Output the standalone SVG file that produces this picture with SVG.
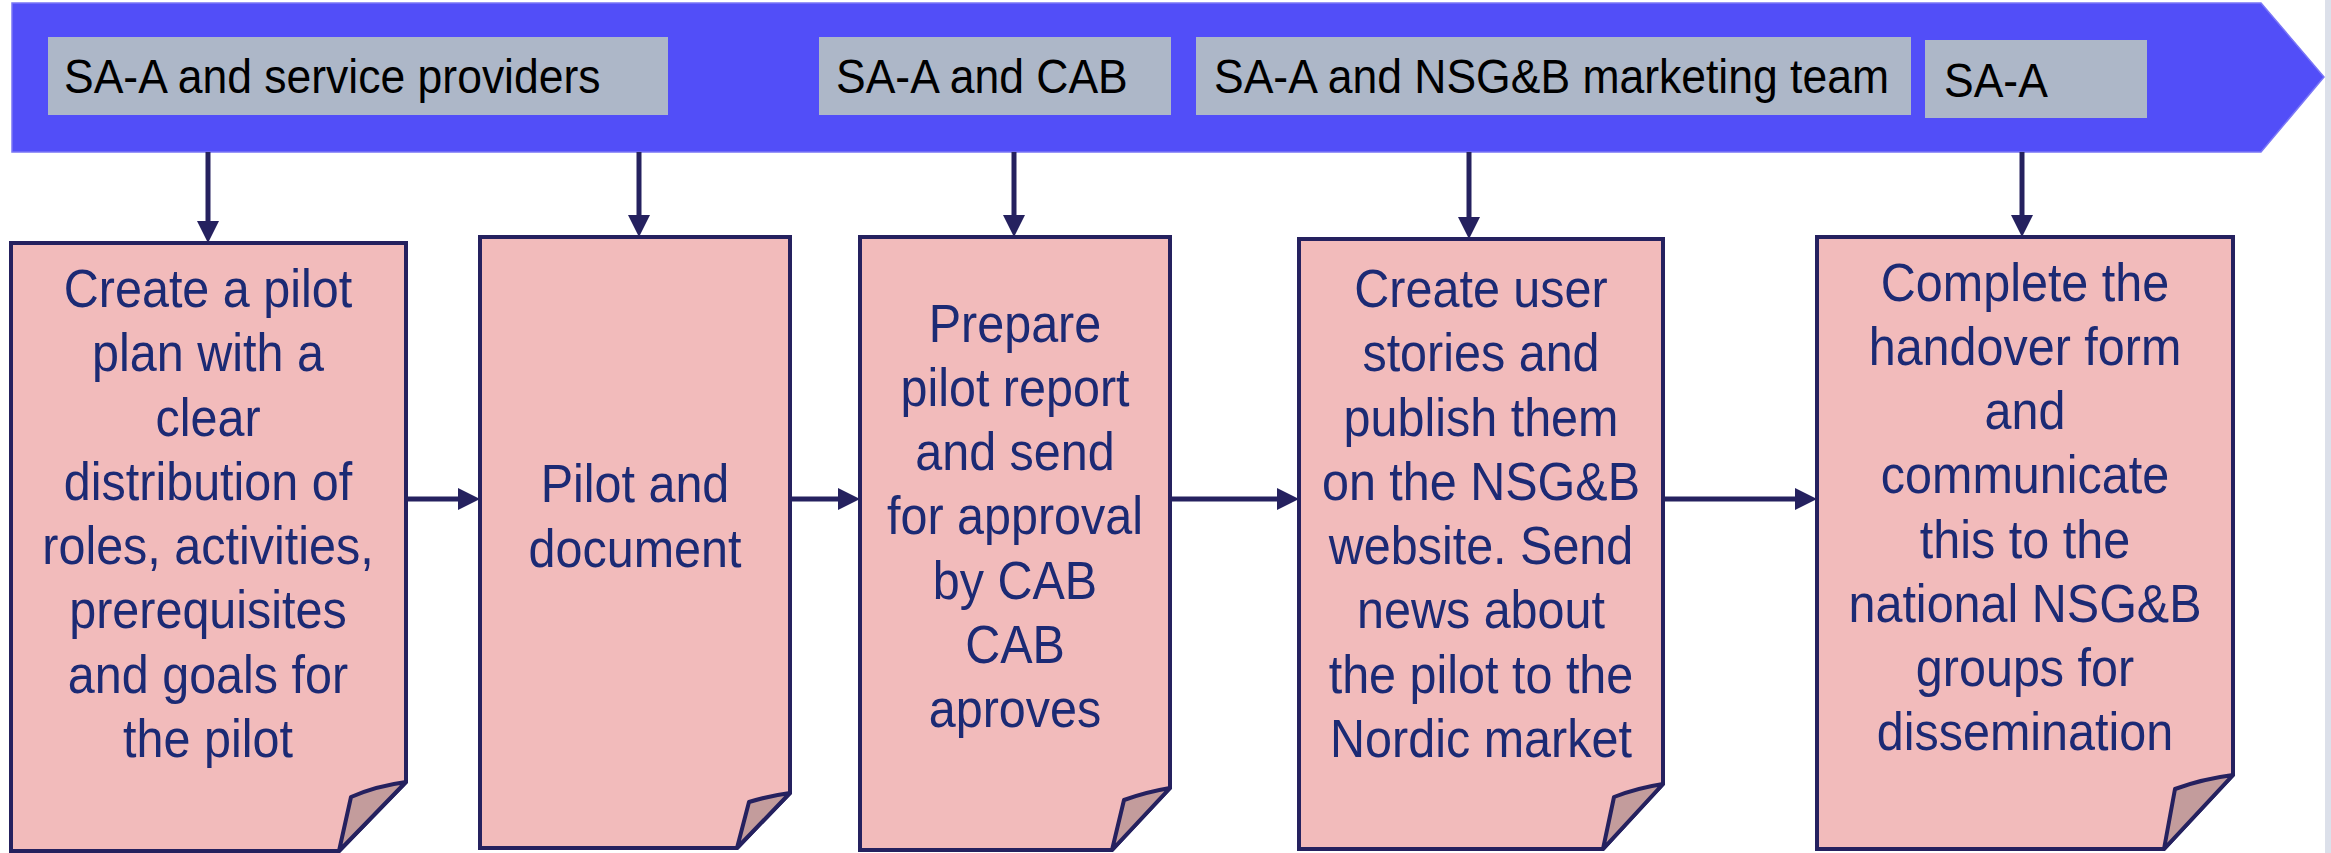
<svg xmlns="http://www.w3.org/2000/svg" width="2331" height="853" viewBox="0 0 2331 853">
<style>
.box{fill:#F2BBBB;stroke:#25215F;stroke-width:4;stroke-linejoin:miter}
.fold{fill:#C39C9C;stroke:#25215F;stroke-width:4;stroke-linejoin:round}
.lbl{fill:#ADB7C8}
.lt{font-family:"Liberation Sans",Arial,sans-serif;font-size:44.5px;fill:#000}
.bt{font-family:"Liberation Sans",Arial,sans-serif;font-size:48.5px;fill:#1C2A74;text-anchor:middle}
.con{stroke:#25215F;stroke-width:5;fill:none}
</style>
<defs>
<marker id="ah" markerWidth="22" markerHeight="22" refX="2" refY="11" orient="auto" markerUnits="userSpaceOnUse">
<path d="M0,0 L22,11 L0,22 Z" fill="#25215F"/>
</marker>
</defs>
<rect x="0" y="0" width="2331" height="853" fill="#FFFFFF"/>
<rect x="2325" y="0" width="6" height="853" fill="#DCE0EA"/>
<g id="banner">
<polygon points="12,3 2261,3 2324,77 2261,152 12,152" fill="#524EF8" stroke="#7A76F6" stroke-width="1.5"/>
</g>
<g id="label-1">
<rect class="lbl" x="48" y="37" width="620" height="78"/>
<g transform="scale(1,1.09)"><text class="lt" x="64" y="85.32">SA-A and service providers</text></g>
</g>
<g id="label-2">
<rect class="lbl" x="819" y="37" width="352" height="78"/>
<g transform="scale(1,1.09)"><text class="lt" x="836" y="85.32">SA-A and CAB</text></g>
</g>
<g id="label-3">
<rect class="lbl" x="1196" y="37" width="715" height="78"/>
<g transform="scale(1,1.09)"><text class="lt" x="1214" y="85.32">SA-A and NSG&amp;B marketing team</text></g>
</g>
<g id="label-4">
<rect class="lbl" x="1925" y="40" width="222" height="78"/>
<g transform="scale(1,1.09)"><text class="lt" x="1944" y="88.99">SA-A</text></g>
</g>
<g id="connectors">
<line class="con" x1="208" y1="152" x2="208" y2="223" marker-end="url(#ah)"/>
<line class="con" x1="639" y1="152" x2="639" y2="217" marker-end="url(#ah)"/>
<line class="con" x1="1014" y1="152" x2="1014" y2="217" marker-end="url(#ah)"/>
<line class="con" x1="1469" y1="152" x2="1469" y2="219" marker-end="url(#ah)"/>
<line class="con" x1="2022" y1="152" x2="2022" y2="217" marker-end="url(#ah)"/>
<line class="con" stroke-width="6" x1="408" y1="499" x2="460" y2="499" marker-end="url(#ah)"/>
<line class="con" stroke-width="6" x1="792" y1="499" x2="840" y2="499" marker-end="url(#ah)"/>
<line class="con" stroke-width="6" x1="1172" y1="499" x2="1279" y2="499" marker-end="url(#ah)"/>
<line class="con" stroke-width="6" x1="1665" y1="499" x2="1797" y2="499" marker-end="url(#ah)"/>
</g>
<g id="step-1">
<path class="box" d="M11,243 H406 V782 L339,851 H11 Z"/>
<path class="fold" d="M406,782 Q376,786 351,797 L339,851 Z"/>
<g transform="scale(1,1.09)">
<text class="bt" x="208" y="281.65">Create a pilot</text>
<text class="bt" x="208" y="340.64">plan with a</text>
<text class="bt" x="208" y="399.63">clear</text>
<text class="bt" x="208" y="458.62">distribution of</text>
<text class="bt" x="208" y="517.61">roles, activities,</text>
<text class="bt" x="208" y="576.61">prerequisites</text>
<text class="bt" x="208" y="635.6">and goals for</text>
<text class="bt" x="208" y="694.5">the pilot</text>
</g>
</g>
<g id="step-2">
<path class="box" d="M480,237 H790 V793 L737,848 H480 Z"/>
<path class="fold" d="M790,793 Q768,796 749,802 L737,848 Z"/>
<g transform="scale(1,1.09)">
<text class="bt" x="635" y="460.55">Pilot and</text>
<text class="bt" x="635" y="520.18">document</text>
</g>
</g>
<g id="step-3">
<path class="box" d="M860,237 H1170 V788 L1112,850 H860 Z"/>
<path class="fold" d="M1170,788 Q1146,792 1124,800 L1112,850 Z"/>
<g transform="scale(1,1.09)">
<text class="bt" x="1015" y="313.76">Prepare</text>
<text class="bt" x="1015" y="372.66">pilot report</text>
<text class="bt" x="1015" y="431.47">and send</text>
<text class="bt" x="1015" y="490.37">for approval</text>
<text class="bt" x="1015" y="549.27">by CAB</text>
<text class="bt" x="1015" y="608.07">CAB</text>
<text class="bt" x="1015" y="666.97">aproves</text>
</g>
</g>
<g id="step-4">
<path class="box" d="M1299,239 H1663 V784 L1603,849 H1299 Z"/>
<path class="fold" d="M1663,784 Q1637,788 1614,797 L1603,849 Z"/>
<g transform="scale(1,1.09)">
<text class="bt" x="1481" y="281.65">Create user</text>
<text class="bt" x="1481" y="340.64">stories and</text>
<text class="bt" x="1481" y="399.63">publish them</text>
<text class="bt" x="1481" y="458.62">on the NSG&amp;B</text>
<text class="bt" x="1481" y="517.61">website. Send</text>
<text class="bt" x="1481" y="576.61">news about</text>
<text class="bt" x="1481" y="635.6">the pilot to the</text>
<text class="bt" x="1481" y="694.5">Nordic market</text>
</g>
</g>
<g id="step-5">
<path class="box" d="M1817,237 H2233 V775 L2164,849 H1817 Z"/>
<path class="fold" d="M2233,775 Q2202,779 2175,789 L2164,849 Z"/>
<g transform="scale(1,1.09)">
<text class="bt" x="2025" y="276.15">Complete the</text>
<text class="bt" x="2025" y="334.95">handover form</text>
<text class="bt" x="2025" y="393.85">and</text>
<text class="bt" x="2025" y="452.66">communicate</text>
<text class="bt" x="2025" y="511.56">this to the</text>
<text class="bt" x="2025" y="570.37">national NSG&amp;B</text>
<text class="bt" x="2025" y="629.27">groups for</text>
<text class="bt" x="2025" y="688.07">dissemination</text>
</g>
</g>
</svg>
